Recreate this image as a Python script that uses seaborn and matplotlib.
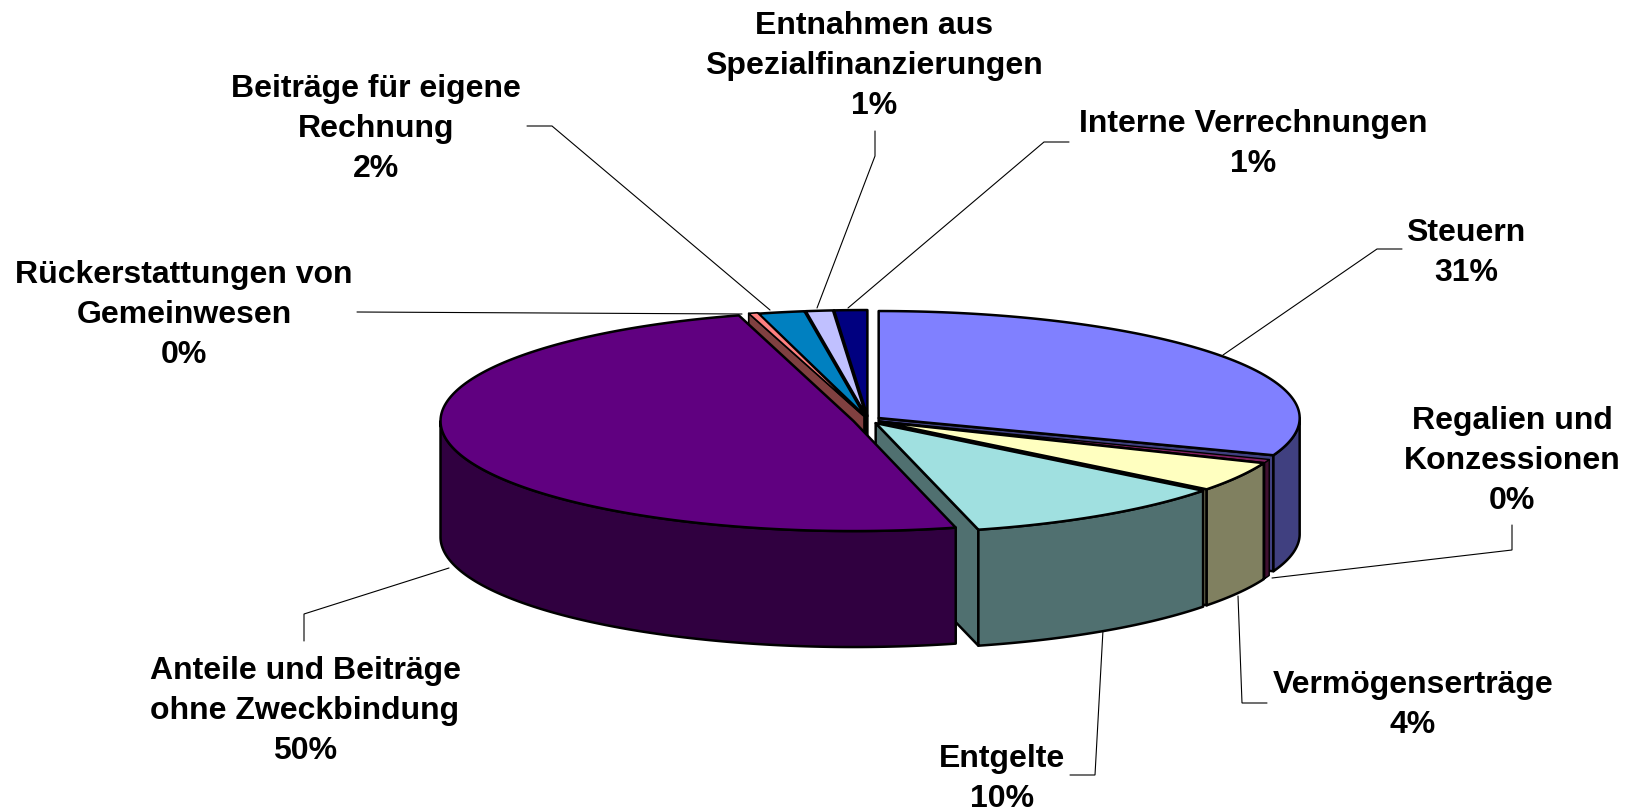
import numpy as np
import matplotlib
matplotlib.use("Agg")
import matplotlib.pyplot as plt
import seaborn as sns

# ---- data -------------------------------------------------------------
categories = ["Steuern", "Regalien und\nKonzessionen", "Vermögenserträge", "Entgelte",
              "Anteile und Beiträge\nohne Zweckbindung", "Rückerstattungen von\nGemeinwesen",
              "Beiträge für eigene\nRechnung", "Entnahmen aus\nSpezialfinanzierungen",
              "Interne Verrechnungen"]
values = [30.65, 0.49, 4.39, 10.49, 49.5, 0.35, 1.8, 1.05, 1.28]
percent_labels = ["31%", "0%", "4%", "10%", "50%", "0%", "2%", "1%", "1%"]
top_colours = ["#8080FF", "#802060", "#FFFFC0", "#A0E0E0", "#600080",
               "#FF8080", "#0080C0", "#C0C0FF", "#000080"]

# ---- layout / style ---------------------------------------------------
sns.set_theme(style="white")
plt.rcParams["font.family"] = ["Liberation Sans", "DejaVu Sans"]
palette = sns.color_palette(top_colours)
side_colours = [tuple(c * 0.5 for c in col) for col in palette]

CX, CY = 868, 420
RX = [421, 415, 415, 415, 413, 415, 415, 415, 415]
RY = [107, 110, 110, 110, 110, 107, 106, 106, 106]
DEPTH = 116
EXPLODE = [13, 13, 13, 14, 15, 15, 15, 15, 15]
EDGE = [1.8, 1.0, 1.8, 1.8, 1.8, 1.2, 1.8, 1.8, 1.8]
DRAW_ORDER = [8, 7, 6, 5, 0, 1, 2, 3, 4]

label_pos = [(1466, 253), (1512, 461), (1413, 705), (1002, 779), (305, 711),
             (184, 315), (376, 129), (874, 66), (1253, 144)]
leaders = [
    [(1223, 355), (1377, 249), (1402, 249)],
    [(1272, 578), (1512, 550), (1512, 525)],
    [(1238, 596), (1242, 703), (1267, 703)],
    [(1103, 630), (1095, 775), (1070, 775)],
    [(449, 568), (304, 614), (304, 641)],
    [(742, 314), (357, 312)],
    [(770, 310), (552, 126), (527, 126)],
    [(817, 308), (875, 156), (875, 131)],
    [(848, 308), (1044, 142), (1069, 142)],
]

fig = plt.figure(figsize=(16.30, 8.11), dpi=100, facecolor="white")
ax = fig.add_axes([0, 0, 1, 1])
ax.set_xlim(0, 1630)
ax.set_ylim(811, 0)
ax.axis("off")

fractions = np.array(values) / np.sum(values)
ends = np.cumsum(fractions) * 2 * np.pi
starts = ends - fractions * 2 * np.pi


def rim(apex, rx, ry, theta):
    return apex[0] + rx * np.sin(theta), apex[1] - ry * np.cos(theta)


def patch(xs, ys, colour, z, lw):
    ax.fill(xs, ys, facecolor=colour, edgecolor="black", linewidth=lw,
            joinstyle="round", zorder=z)


z = 2
for i in DRAW_ORDER:
    a0, a1 = starts[i], ends[i]
    mid = (a0 + a1) / 2
    apex = (CX + EXPLODE[i] * np.sin(mid), CY - EXPLODE[i] * 110 / 415 * np.cos(mid))
    rx, ry, lw = RX[i], RY[i], EDGE[i]
    # cut faces that look towards the viewer
    for theta, visible in ((a0, np.sin(a0) < 0), (a1, np.sin(a1) > 0)):
        if visible:
            x, y = rim(apex, rx, ry, theta)
            patch([apex[0], x, x, apex[0]], [apex[1], y, y + DEPTH, apex[1] + DEPTH],
                  side_colours[i], z, lw)
            z += 1
    # outer wall (front half only)
    w0, w1 = max(a0, np.pi / 2), min(a1, 3 * np.pi / 2)
    if w1 > w0:
        t = np.linspace(w0, w1, 160)
        x, y = rim(apex, rx, ry, t)
        patch(np.r_[x, x[::-1]], np.r_[y, y[::-1] + DEPTH], side_colours[i], z, lw)
        z += 1
    # top
    t = np.linspace(a0, a1, 240)
    x, y = rim(apex, rx, ry, t)
    patch(np.r_[apex[0], x], np.r_[apex[1], y], palette[i], z, lw)
    z += 1

for pts in leaders:
    xs, ys = zip(*pts)
    ax.plot(xs, ys, color="black", lw=0.8, zorder=1, solid_joinstyle="miter")

for name, pct, (x, y) in zip(categories, percent_labels, label_pos):
    ax.text(x, y, f"{name}\n{pct}", ha="center", va="center", multialignment="center",
            fontsize=23, fontweight="bold", color="black", linespacing=1.43, zorder=50)

fig.savefig("out.png", dpi=100, facecolor="white")
